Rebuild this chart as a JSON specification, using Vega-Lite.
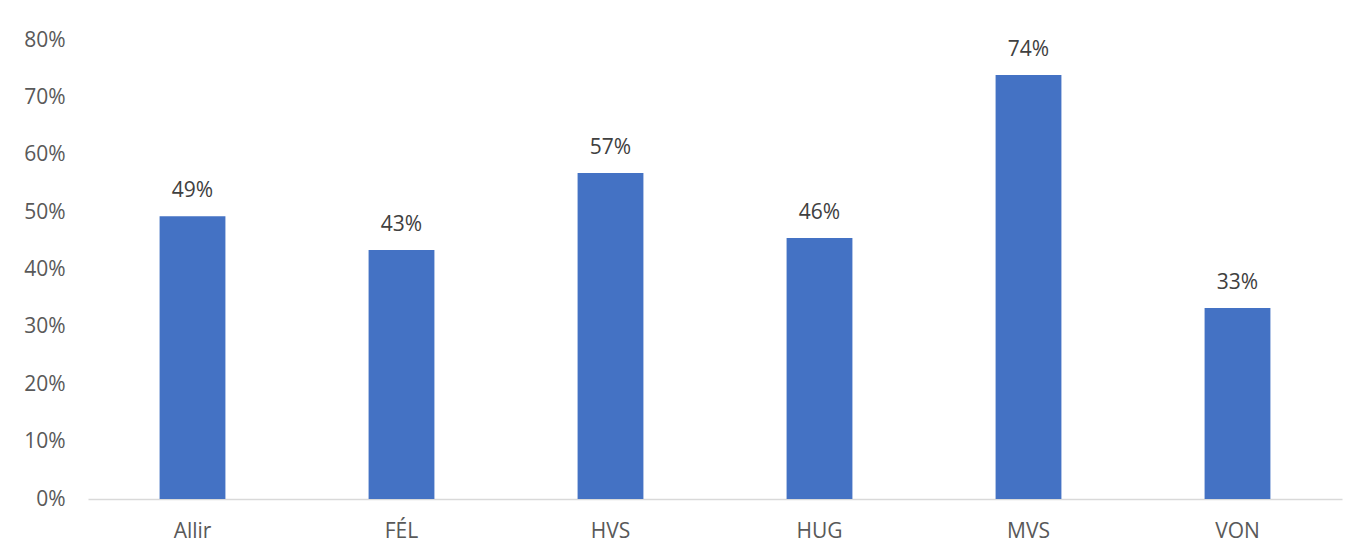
{
  "$schema": "https://vega.github.io/schema/vega-lite/v6.json",
  "autosize": "none",
  "width": 1254,
  "height": 459,
  "padding": {"left": 88, "top": 40, "right": 29, "bottom": 55},
  "background": "white",
  "config": {
    "view": {"stroke": null},
    "font": "Open Sans"
  },
  "data": {
    "values": [
      {"cat": "Allir", "v": 0.493},
      {"cat": "FÉL", "v": 0.434},
      {"cat": "HVS", "v": 0.568},
      {"cat": "HUG", "v": 0.455},
      {"cat": "MVS", "v": 0.739},
      {"cat": "VON", "v": 0.333}
    ]
  },
  "encoding": {
    "x": {
      "field": "cat", "type": "nominal", "sort": null,
      "scale": {"paddingInner": 0.685, "paddingOuter": 0.3425},
      "axis": {"title": null, "labelAngle": 0, "ticks": false, "domainColor": "#d9d9d9", "domainWidth": 1.5,
               "labelFontSize": 21, "labelColor": "#595959", "labelPadding": 21, "labelFont": "Open Sans"}
    },
    "y": {
      "field": "v", "type": "quantitative",
      "scale": {"domain": [0, 0.8]},
      "axis": {"title": null, "format": ".0%", "tickCount": 8, "grid": false, "domain": false, "ticks": false,
               "labelFontSize": 21, "labelColor": "#595959", "labelPadding": 23, "labelFont": "Open Sans"}
    }
  },
  "layer": [
    {"mark": {"type": "bar", "color": "#4472C4"}},
    {"mark": {"type": "text", "dy": -25, "fontSize": 21, "color": "#404040", "font": "Open Sans"},
     "encoding": {"text": {"field": "v", "type": "quantitative", "format": ".0%"}}}
  ]
}
